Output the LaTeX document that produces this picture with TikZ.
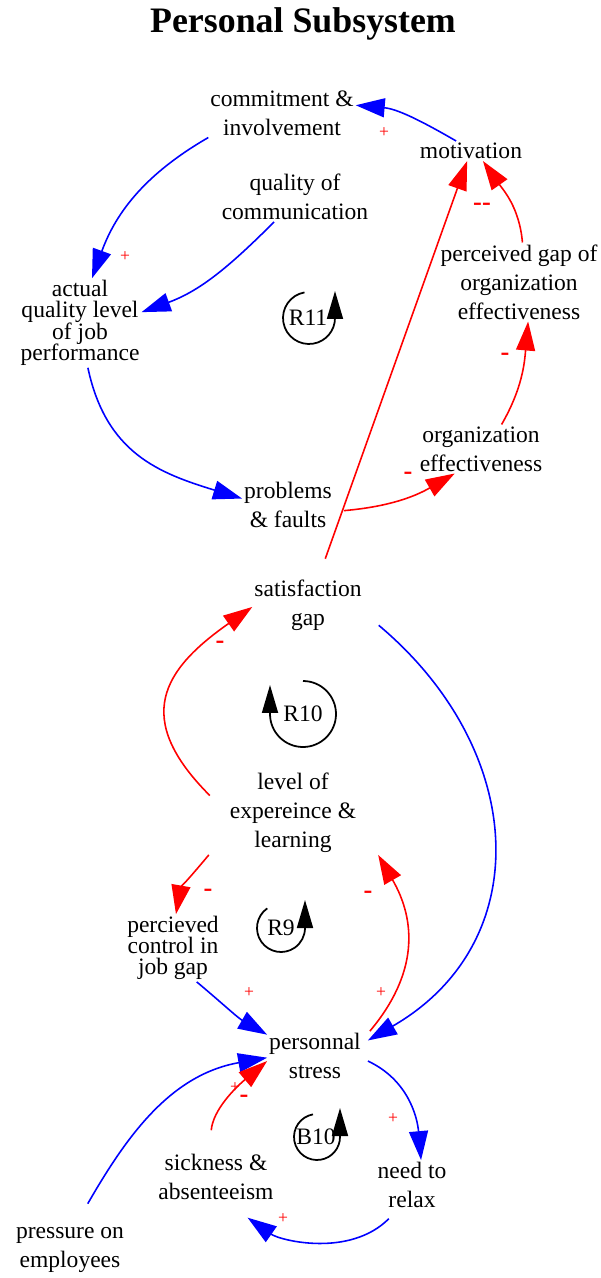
\documentclass[tikz,border=0pt]{standalone}
\usepackage{fontspec}
\setmainfont{Liberation Serif}
\usetikzlibrary{arrows.meta}
\newcommand\tightlines{\fontsize{13.4}{11.8}\selectfont\setlength{\lineskip}{0pt}}

\begin{document}
\begin{tikzpicture}[
    x=0.02cm, y=0.02cm,
    var/.style={align=center, inner sep=1pt, font=\fontsize{13.4}{16.5}\selectfont},
    tightvar/.style={var, font=\tightlines},
    plink/.style={blue, line width=0.9pt, -{Triangle[length=0.58cm, width=0.38cm]}},
    nlink/.style={red, line width=0.9pt, -{Triangle[length=0.58cm, width=0.38cm]}},
    loopline/.style={black, line width=1pt, -{Triangle[length=0.56cm, width=0.32cm]}},
    plus/.style={red, inner sep=0pt, font=\fontsize{10}{10}\selectfont},
    minus/.style={red, inner sep=0pt, font=\bfseries\fontsize{15}{15}\selectfont}
]
\useasboundingbox (0,0) rectangle (601,-1278);

\node[font=\bfseries\fontsize{20.4}{24}\selectfont] (title) at (303,-24) {Personal Subsystem};

\node[var] (comm) at (282,-113) {commitment \&\\involvement};
\node[var] (mot) at (471,-151) {motivation};
\node[var] (qoc) at (295,-197) {quality of\\communication};
\node[tightvar] (aq) at (80,-323) {actual\\quality level\\of job\\performance};
\node[var] (pgap) at (519,-282) {perceived gap of\\organization\\effectiveness};
\node[var] (oe) at (481,-449) {organization\\effectiveness};
\node[var] (pf) at (288,-505) {problems\\\& faults};
\node[var] (sg) at (308,-605) {satisfaction\\gap};
\node[var] (lel) at (293,-813) {level of\\expereince \&\\learning};
\node[tightvar] (pc) at (173,-948) {percieved\\control in\\job gap};
\node[var] (ps) at (315,-1056) {personnal\\stress};
\node[var] (nr) at (412,-1185) {need to\\relax};
\node[var] (sa) at (216,-1177) {sickness \&\\absenteeism};
\node[var] (pe) at (70,-1250) {pressure on\\employees};

% loop markers
\node[var] (r11) at (308,-318) {R11};
\draw[loopline] (309,-318) ++(100:26) arc[start angle=100, end angle=360, radius=0.52cm] -- ++(0,27);
\node[var] (r10) at (303,-714) {R10};
\draw[loopline] (303,-714) ++(90:33) arc[start angle=90, end angle=-180, radius=0.66cm] -- ++(0,29);
\node[var] (r9) at (281,-928) {R9};
\draw[loopline] (281,-928) ++(125:24) arc[start angle=125, end angle=360, radius=0.48cm] -- ++(0,28);
\node[var] (b10) at (316,-1137) {B10};
\draw[loopline] (317,-1137) ++(100:23) arc[start angle=100, end angle=360, radius=0.46cm] -- ++(0,29);

\draw[plink] (mot.146) to[out=150, in=-5] (comm.6);
\draw[plink] (comm.south west) to[out=-150, in=70] (aq.75);
\draw[plink] (qoc.-130) to[out=-135, in=20] (aq.10);
\draw[plink] (aq.-80) to[out=-78, in=163, looseness=1.1] (pf.172);
\draw[nlink] ([xshift=0.2cm]pf.-7) to[out=5, in=-150] (oe.-137);
\draw[nlink] (oe.50) to[out=60, in=-95] (pgap.-77);
\draw[nlink] (pgap.85) to[out=95, in=-55] (mot.-40);
\draw[nlink, shorten <=0.4cm] (sg.69) -- (mot.-111);
\draw[nlink] ([xshift=-0.36cm]lel.165) to[out=135, in=-145, looseness=1.45] (sg.182);
\draw[plink] ([xshift=0.3cm]sg.-20) to[out=-40, in=30, looseness=1.2] ([xshift=0.1cm]ps.18);
\draw[nlink] ([xshift=-0.38cm]lel.south west) to[out=-130, in=80] (pc.85);
\draw[nlink] ([xshift=0.14cm]ps.north east) to[out=50, in=-60, looseness=1.1] ([xshift=0.4cm]lel.south east);
\draw[plink] (pc.-55) to[out=-40, in=150] (ps.156);
\draw[plink, shorten <=0.5cm] (pe.78) to[out=60, in=-170] (ps.182);
\draw[nlink, shorten <=0.44cm] (sa.105) to[out=85, in=-140] (ps.186);
\draw[plink] ([xshift=0.1cm]ps.-6) to[out=-25, in=95] (nr.70);
\draw[plink, shorten <=0.25cm, shorten >=0.55cm] (nr.-120) to[out=-135, in=-35] (sa.-70);

% polarity signs
\node[plus] (s1) at (384,-133) {+};
\node[plus] (s2) at (125,-257) {+};
\node[plus] (s3) at (249,-993) {+};
\node[plus] (s4) at (381,-993) {+};
\node[plus] (s5) at (235,-1088) {+};
\node[plus] (s6) at (393,-1119) {+};
\node[plus] (s7) at (283,-1219) {+};
\node[minus] (m1) at (408,-476) {-};
\node[minus] (m2) at (505,-357) {-};
\node[minus] (m3) at (482,-207) {-{}-};
\node[minus] (m4) at (220,-645) {-};
\node[minus] (m5) at (208,-893) {-};
\node[minus] (m6) at (368,-895) {-};
\node[minus] (m7) at (244,-1099) {-};
\end{tikzpicture}
\end{document}
